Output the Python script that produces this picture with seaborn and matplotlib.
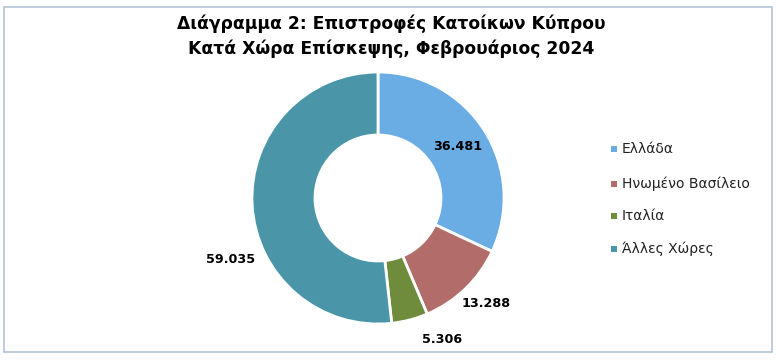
import matplotlib
matplotlib.use("Agg")
import matplotlib.pyplot as plt
import seaborn as sns
import numpy as np
from matplotlib.patches import Rectangle

categories = ["Ελλάδα", "Ηνωμένο Βασίλειο", "Ιταλία", "Άλλες Χώρες"]
values = [36481, 13288, 5306, 59035]
value_labels = ["36.481", "13.288", "5.306", "59.035"]
colors = ["#69ADE4", "#B26C6A", "#6E8C3C", "#4A96A8"]
title = "Διάγραμμα 2: Επιστροφές Κατοίκων Κύπρου\nΚατά Χώρα Επίσκεψης, Φεβρουάριος 2024"

sns.set_theme(style="white")
plt.rcParams['font.family'] = ['DejaVu Sans']

W, H = 776, 364
fig = plt.figure(figsize=(W / 100, H / 100), dpi=100)
fig.patch.set_facecolor("white")

# border
fig.patches.append(Rectangle((4 / W, 1 - 352 / H), 768 / W, 345 / H, transform=fig.transFigure,
                             fill=False, edgecolor="#B4C3D6", linewidth=1.2))

cx, cy, R = 378, 198, 126
ax = fig.add_axes([(cx - R) / W, (H - cy - R) / H, 2 * R / W, 2 * R / H])
wedges, _ = ax.pie(values, colors=colors, startangle=90, counterclock=False, radius=1.0,
                   wedgeprops=dict(width=0.5, edgecolor="white", linewidth=2))
ax.set_xlim(-1, 1)
ax.set_ylim(-1, 1)
ax.axis("off")

# label placement (radius, angular offset from wedge middle, degrees)
label_r = [0.75, 1.20, 1.23, 1.27]
label_off = [0.3, 1.6, 9.8, 19.4]
total = sum(values)
cum = 0
for v, lab, r, off in zip(values, value_labels, label_r, label_off):
    mid = 90 - 360 * (cum + v / 2) / total + off
    cum += v
    a = np.deg2rad(mid)
    ax.text(r * np.cos(a), r * np.sin(a), lab, ha="center", va="center",
            fontsize=9.2, fontweight="bold", color="black")

fig.text(391 / W, 1 - 36 / H, title, ha="center", va="center", fontsize=12.3,
         fontweight="bold", color="black", linespacing=1.42)

leg_y = [149, 184, 216, 249]
for cat, col, y in zip(categories, colors, leg_y):
    fig.patches.append(Rectangle((611 / W, 1 - (y + 3) / H), 6 / W, 6 / H,
                                 transform=fig.transFigure, facecolor=col, edgecolor="none"))
    fig.text(622 / W, 1 - y / H, cat, ha="left", va="center", fontsize=10, color="#222222")

fig.savefig("out.png", dpi=100)
